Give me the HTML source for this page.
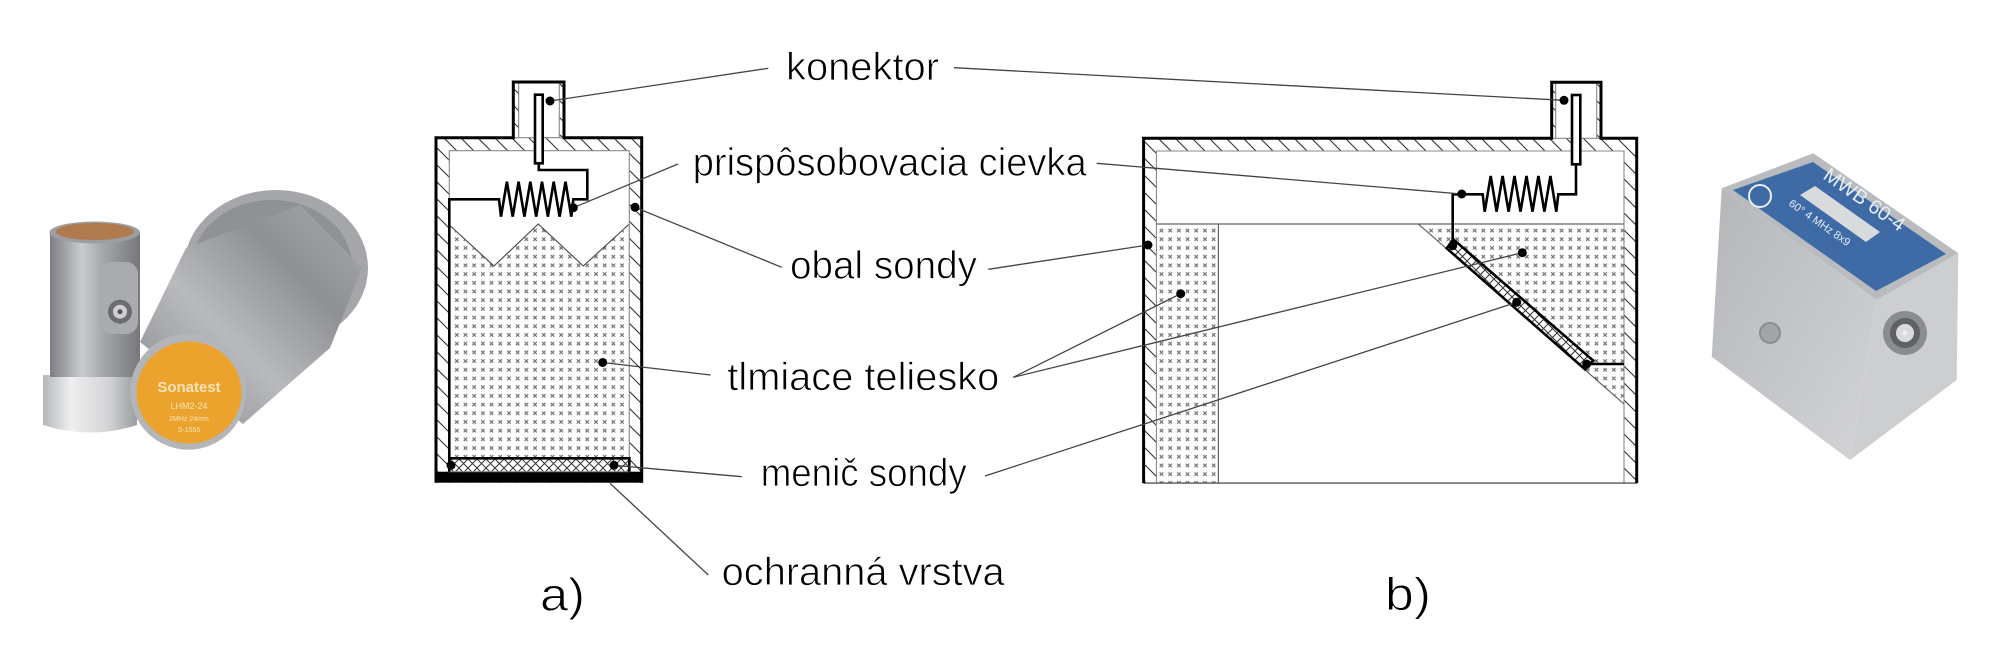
<!DOCTYPE html>
<html>
<head>
<meta charset="utf-8">
<style>
html,body{margin:0;padding:0;background:#fff;}
svg{display:block;}
.lbl{font-family:"Liberation Sans",sans-serif;font-size:39px;fill:#000;stroke:#fff;stroke-width:0.8px;}
.big{font-family:"Liberation Sans",sans-serif;font-size:46px;fill:#000;stroke:#fff;stroke-width:0.9px;}
</style>
</head>
<body>
<svg width="2001" height="653" viewBox="0 0 2001 653" xmlns="http://www.w3.org/2000/svg">
<defs>
  <pattern id="hatch" patternUnits="userSpaceOnUse" width="17" height="17">
    <path d="M-2,-2 L19,19 M-2,15 L2,19 M15,-2 L19,2" stroke="#333" stroke-width="1.1"/>
  </pattern>
  <pattern id="dots" patternUnits="userSpaceOnUse" width="8.7" height="8.7">
    <path d="M2.6,2.6 L6.1,6.1 M6.1,2.6 L2.6,6.1" stroke="#6e6e6e" stroke-width="1.1"/>
  </pattern>
  <pattern id="xh" patternUnits="userSpaceOnUse" width="9" height="9">
    <path d="M0,0 L9,9 M9,0 L0,9" stroke="#333" stroke-width="1"/>
  </pattern>
  <linearGradient id="metal" x1="0" y1="0" x2="1" y2="0">
    <stop offset="0" stop-color="#7c7e82"/>
    <stop offset="0.35" stop-color="#c9cbce"/>
    <stop offset="0.6" stop-color="#a3a5a9"/>
    <stop offset="1" stop-color="#75777b"/>
  </linearGradient>
  <linearGradient id="metal2" x1="0" y1="1" x2="1" y2="0">
    <stop offset="0" stop-color="#85878b"/>
    <stop offset="0.4" stop-color="#b8babd"/>
    <stop offset="0.7" stop-color="#8e9094"/>
    <stop offset="1" stop-color="#a9abae"/>
  </linearGradient>
  <linearGradient id="nut" x1="0" y1="0" x2="1" y2="0">
    <stop offset="0" stop-color="#b5b7ba"/>
    <stop offset="0.3" stop-color="#eeeff0"/>
    <stop offset="0.7" stop-color="#d2d3d5"/>
    <stop offset="1" stop-color="#9a9c9f"/>
  </linearGradient>
  <linearGradient id="side" x1="0" y1="0" x2="1" y2="1">
    <stop offset="0" stop-color="#b4b6b9"/>
    <stop offset="1" stop-color="#d3d4d6"/>
  </linearGradient>
</defs>

<!-- ============ LEFT PHOTO ============ -->
<g>
  <ellipse cx="276" cy="268" rx="92" ry="78" fill="#a4a6aa"/>
  <ellipse cx="272" cy="266" rx="80" ry="66" fill="#8f9195"/>
  <polygon points="140,342 186,248 300,205 362,268 330,348 243,424" fill="url(#metal2)"/>
  <path d="M43,375 L137,375 L137,425 Q90,440 43,425 Z" fill="url(#nut)"/>
  <rect x="50" y="232" width="90" height="145" fill="url(#metal)"/>
  <ellipse cx="94.7" cy="232.5" rx="45.3" ry="11" fill="#9c9ea2"/>
  <ellipse cx="94.7" cy="231.5" rx="39" ry="8.5" fill="#b07a4f"/>
  <rect x="100" y="262" width="38" height="72" rx="12" fill="#a9abaf"/>
  <circle cx="120" cy="311.7" r="12" fill="#6b6d71"/>
  <circle cx="120" cy="311.7" r="7" fill="#cfd0d2"/>
  <circle cx="120" cy="311.7" r="2.5" fill="#555"/>
  <ellipse cx="188.3" cy="391.7" rx="58" ry="58" fill="#b3b5b8"/>
  <ellipse cx="189" cy="392.5" rx="52.5" ry="51" fill="#eba32e"/>
  <text x="189" y="392" text-anchor="middle" font-family="Liberation Sans,sans-serif" font-size="15" font-weight="bold" fill="#fbe3b8">Sonatest</text>
  <text x="189" y="409" text-anchor="middle" font-family="Liberation Sans,sans-serif" font-size="9" fill="#fbe3b8">LHM2-24</text>
  <text x="189" y="421" text-anchor="middle" font-family="Liberation Sans,sans-serif" font-size="7" fill="#fbe3b8">2MHz 24mm</text>
  <text x="189" y="432" text-anchor="middle" font-family="Liberation Sans,sans-serif" font-size="7" fill="#fbe3b8">S-1556</text>
</g>

<!-- ============ RIGHT PHOTO ============ -->
<g>
  <polygon points="1721.7,188.3 1876.7,300 1850,460 1711.7,356.7" fill="url(#side)"/>
  <polygon points="1876.7,300 1958.3,253.3 1956.7,380 1850,460" fill="#cdced0"/>
  <polygon points="1721.7,188.3 1813.3,153.3 1958.3,253.3 1876.7,300" fill="#b9bbbe"/>
  <polygon points="1733,190 1813,162 1946,254 1876,291" fill="#3e6ba6"/>
  <text x="0" y="0" transform="translate(1822,178) rotate(35)" font-family="Liberation Sans,sans-serif" font-size="20" fill="#e8eef6">MWB 60-4</text>
  <polygon points="1800,195 1815,186 1880,232 1866,242" fill="#d8dadc"/>
  <text x="0" y="0" transform="translate(1788,205) rotate(35)" font-family="Liberation Sans,sans-serif" font-size="11" fill="#e8eef6">60°  4 MHz  8x9</text>
  <circle cx="1760" cy="196" r="11" fill="none" stroke="#e8eef6" stroke-width="2"/>
  <circle cx="1905" cy="333" r="22" fill="#8a8c8f"/>
  <circle cx="1905" cy="333" r="15" fill="#5f6164"/>
  <circle cx="1905" cy="333" r="9" fill="#d9dadc"/>
  <circle cx="1905" cy="333" r="2.5" fill="#eee"/>
  <circle cx="1770" cy="333" r="10" fill="#a2a4a7" stroke="#8a8c8f" stroke-width="2"/>
</g>

<!-- ============ DIAGRAM A ============ -->
<g>
  <rect x="436" y="137.7" width="205.7" height="345" fill="url(#hatch)"/>
  <rect x="513.3" y="82" width="5.4" height="55.7" fill="url(#hatch)"/>
  <rect x="559.3" y="82" width="4.7" height="55.7" fill="url(#hatch)"/>
  <rect x="518.7" y="82" width="40.6" height="55.7" fill="#fff"/>
  <rect x="449.3" y="150.7" width="180" height="321" fill="#fff"/>
  <polygon points="449.3,225 494,266 538.3,224 583.3,266 629.3,224 629.3,458.3 449.3,458.3" fill="url(#dots)"/>
  <polyline points="449.3,225 494,266 538.3,224 583.3,266 629.3,224" fill="none" stroke="#444" stroke-width="1.1"/>
  <rect x="449.3" y="458.3" width="180" height="13.4" fill="#fff"/>
  <rect x="449.3" y="458.3" width="180" height="13.4" fill="url(#xh)"/>
  <rect x="436" y="471.7" width="205.7" height="11" fill="#000"/>
  <rect x="449.3" y="150.7" width="180" height="321" fill="none" stroke="#888" stroke-width="1.1"/>
  <line x1="518.7" y1="82" x2="518.7" y2="137.7" stroke="#888" stroke-width="1.1"/>
  <line x1="559.3" y1="82" x2="559.3" y2="137.7" stroke="#888" stroke-width="1.1"/>
  <line x1="513.3" y1="137.7" x2="564" y2="137.7" stroke="#888" stroke-width="1.1"/>
  <path d="M449.3,471.7 V458.3 H629.3 V471.7" fill="none" stroke="#000" stroke-width="2.6"/>
  <path d="M436,482.7 V137.7 H513.3 V82 H564 V137.7 H641.7 V482.7" fill="none" stroke="#000" stroke-width="3"/>
  <path d="M449.3,458.3 V199.3 H499 L501,216.7 L506.9,181.7 L512.7,216.7 L518.6,181.7 L524.4,216.7 L530.3,181.7 L536.2,216.7 L542,181.7 L547.9,216.7 L553.7,181.7 L559.6,216.7 L565.5,181.7 L571.3,216.7 L573.3,199.3 H587.3 V170 H538.8 V163.3" fill="none" stroke="#000" stroke-width="2.6" stroke-linejoin="miter"/>
  <rect x="535" y="94.7" width="7.7" height="68.6" fill="#fff" stroke="#000" stroke-width="2.6"/>
</g>

<!-- ============ DIAGRAM B ============ -->
<g>
  <rect x="1143.6" y="138.3" width="493.1" height="344.8" fill="url(#hatch)"/>
  <rect x="1551.7" y="82.3" width="4" height="56" fill="url(#hatch)"/>
  <rect x="1596.7" y="82.3" width="4.3" height="56" fill="url(#hatch)"/>
  <rect x="1555.7" y="82.3" width="41" height="56" fill="#fff"/>
  <rect x="1156.4" y="151" width="467.6" height="332.1" fill="#fff"/>
  <rect x="1156.4" y="224" width="62" height="259.1" fill="url(#dots)"/>
  <polygon points="1418.3,224 1624,224 1624,404" fill="url(#dots)"/>
  <path d="M1156.4,483.1 V151 H1624 V483.1" fill="none" stroke="#888" stroke-width="1.1"/>
  <line x1="1555.7" y1="82.3" x2="1555.7" y2="138.3" stroke="#888" stroke-width="1.1"/>
  <line x1="1596.7" y1="82.3" x2="1596.7" y2="138.3" stroke="#888" stroke-width="1.1"/>
  <line x1="1551.7" y1="138.3" x2="1601" y2="138.3" stroke="#888" stroke-width="1.1"/>
  <line x1="1156.4" y1="224" x2="1624" y2="224" stroke="#666" stroke-width="1.2"/>
  <line x1="1218.4" y1="224" x2="1218.4" y2="483.1" stroke="#666" stroke-width="1.2"/>
  <line x1="1418.3" y1="224" x2="1624" y2="404" stroke="#555" stroke-width="1.1"/>
  <line x1="1143.6" y1="483.1" x2="1636.7" y2="483.1" stroke="#555" stroke-width="1.4"/>
  <polygon points="1453.3,239.3 1593.3,360.7 1585,369.3 1446.7,248.3" fill="#fff"/>
  <polygon points="1453.3,239.3 1593.3,360.7 1585,369.3 1446.7,248.3" fill="url(#xh)" stroke="#000" stroke-width="2.6"/>
  <path d="M1143.6,483.1 V138.3 H1551.7 V82.3 H1601 V138.3 H1636.7 V483.1" fill="none" stroke="#000" stroke-width="3"/>
  <path d="M1452.7,245 V194.3 H1482.7 L1484.7,211.7 L1490.7,176 L1496.6,211.7 L1502.6,176 L1508.6,211.7 L1514.5,176 L1520.5,211.7 L1526.5,176 L1532.5,211.7 L1538.4,176 L1544.4,211.7 L1550.4,176 L1556.3,211.7 L1558.3,194.3 H1576 V164.3" fill="none" stroke="#000" stroke-width="2.6"/>
  <line x1="1589" y1="364" x2="1624" y2="364" stroke="#000" stroke-width="2.6"/>
  <rect x="1572" y="95" width="8.3" height="69.3" fill="#fff" stroke="#000" stroke-width="2.6"/>
</g>

<!-- ============ LEADER LINES ============ -->
<g stroke="#444" stroke-width="1.3" fill="none">
  <line x1="550" y1="101" x2="768.3" y2="68.3"/>
  <line x1="954" y1="67.7" x2="1564" y2="100.3"/>
  <line x1="573.3" y1="207.7" x2="678" y2="164"/>
  <line x1="1096.7" y1="163.3" x2="1461.7" y2="194"/>
  <line x1="635" y1="207.3" x2="781.7" y2="267.3"/>
  <line x1="988.3" y1="269.3" x2="1148" y2="245"/>
  <line x1="602.7" y1="362.5" x2="710.7" y2="375"/>
  <line x1="1013.3" y1="377.3" x2="1180.7" y2="293.7"/>
  <line x1="1013.3" y1="377.3" x2="1522.3" y2="252.7"/>
  <line x1="614" y1="465.3" x2="741.7" y2="476.7"/>
  <line x1="985" y1="476" x2="1516.7" y2="302.3"/>
  <line x1="610" y1="483.3" x2="708.3" y2="575"/>
</g>

<!-- ============ DOTS ============ -->
<g fill="#000">
  <circle cx="550" cy="101" r="4.5"/>
  <circle cx="573.3" cy="207.7" r="4.5"/>
  <circle cx="635" cy="207.3" r="4.5"/>
  <circle cx="602.7" cy="362.5" r="4.5"/>
  <circle cx="451" cy="465.3" r="4.5"/>
  <circle cx="614" cy="465.3" r="4.5"/>
  <circle cx="1564" cy="100.3" r="4.5"/>
  <circle cx="1461.7" cy="194" r="4.5"/>
  <circle cx="1148" cy="245" r="4.5"/>
  <circle cx="1180.7" cy="293.7" r="4.5"/>
  <circle cx="1522.3" cy="252.7" r="4.5"/>
  <circle cx="1516.7" cy="302.3" r="4.5"/>
  <circle cx="1452.7" cy="245.7" r="4.5"/>
  <circle cx="1586.7" cy="364" r="4.5"/>
</g>

<!-- ============ LABELS ============ -->
<text class="lbl" x="786" y="80" textLength="153" lengthAdjust="spacingAndGlyphs">konektor</text>
<text class="lbl" x="692.7" y="175.5" textLength="394" lengthAdjust="spacingAndGlyphs">prispôsobovacia cievka</text>
<text class="lbl" x="790" y="278.3" textLength="187" lengthAdjust="spacingAndGlyphs">obal sondy</text>
<text class="lbl" x="727.3" y="390" textLength="272" lengthAdjust="spacingAndGlyphs">tlmiace teliesko</text>
<text class="lbl" x="760.7" y="486" textLength="206" lengthAdjust="spacingAndGlyphs">menič sondy</text>
<text class="lbl" x="721.7" y="585" textLength="283" lengthAdjust="spacingAndGlyphs">ochranná vrstva</text>
<text class="big" x="540" y="610.7" textLength="45" lengthAdjust="spacingAndGlyphs">a)</text>
<text class="big" x="1385" y="610" textLength="46" lengthAdjust="spacingAndGlyphs">b)</text>
</svg>
</body>
</html>
